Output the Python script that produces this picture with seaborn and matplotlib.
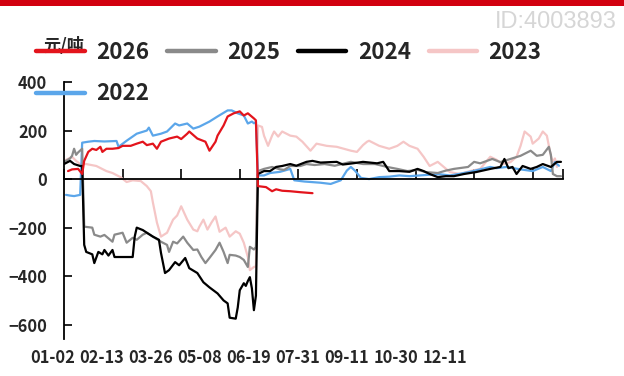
import numpy as np
import pandas as pd
import matplotlib
matplotlib.use("Agg")
import matplotlib.pyplot as plt
from matplotlib.lines import Line2D
from matplotlib.patches import Rectangle
import seaborn as sns

# ---------------- data (trading-day index, 元/吨) ----------------
tick_labels = ["01-02", "02-13", "03-26", "05-08", "06-19", "07-31", "09-11", "10-30", "12-11"]
tick_days = [0, 29, 58, 87, 116, 145, 174, 203, 232]
x_end = 247

days_2026 = [2, 4, 7, 9, 10, 12, 14, 16, 18, 19, 21, 24, 27, 29, 33, 36, 39, 41, 44, 46, 48, 52, 56,
             58, 61, 62, 66, 70, 72, 75, 76, 79, 81, 84, 87, 89, 91, 94, 95, 96, 97, 100, 103, 105,
             108, 112, 117, 123]
vals_2026 = [33, 40, 42, 21, 75, 112, 125, 120, 133, 112, 125, 125, 128, 137, 137, 146, 154, 140, 146,
             125, 154, 167, 175, 165, 187, 196, 167, 154, 117, 154, 179, 221, 258, 271, 279, 262, 271,
             250, 242, -29, -30, -33, -50, -42, -48, -50, -54, -58]

days_2025 = [0, 3, 4, 5, 6, 7, 9, 10, 14, 15, 18, 20, 24, 25, 29, 31, 34, 36, 39, 41, 44, 48, 51, 52,
             54, 56, 59, 61, 64, 66, 68, 70, 72, 75, 77, 79, 81, 82, 85, 87, 89, 91, 92, 94, 95,
             96, 99, 103, 107, 109, 112, 117, 120, 124, 129, 134, 142, 148, 154, 160, 165, 170, 175,
             179, 185, 189, 193, 200, 203, 206, 212, 216, 221, 226, 231, 234, 237, 240, 241, 242, 244, 246]
vals_2025 = [71, 85, 96, 125, 100, 110, 125, -196, -200, -229, -237, -230, -258, -229, -221, -262,
             -242, -250, -229, -221, -237, -258, -271, -300, -258, -265, -237, -262, -292, -290, -321,
             -346, -325, -292, -262, -300, -346, -312, -315, -321, -333, -362, -279, -290, -280,
             33, 42, 50, 40, 38, 54, 54, 62, 58, 62, 55, 71, 62, 62, 50, 42, 33, 38,
             29, 25, 35, 42, 50, 71, 65, 83, 70, 83, 96, 117, 96, 100, 133, 100, 21, 12, 12]

days_2024 = [0, 3, 5, 8, 9, 10, 11, 14, 15, 17, 19, 20, 22, 24, 25, 28, 34, 35, 36, 39, 41, 44, 47,
             48, 50, 52, 55, 57, 60, 62, 66, 69, 72, 76, 79, 81, 82, 85, 86, 87, 89, 90, 91, 92, 93,
             94, 95, 96, 99, 102, 105, 108, 112, 115, 120, 123, 127, 132, 135, 138, 143, 148, 155,
             158, 161, 166, 171, 175, 178, 181, 185, 189, 193, 198, 204, 211, 216, 218, 220, 222,
             224, 227, 231, 234, 237, 241, 244, 246]
vals_2024 = [62, 75, 62, 54, 54, -271, -300, -310, -346, -300, -310, -292, -315, -292, -321, -321,
             -321, -237, -200, -210, -221, -237, -250, -304, -387, -375, -342, -355, -325, -367,
             -387, -425, -446, -471, -500, -512, -571, -575, -529, -458, -429, -440, -420, -404,
             -450, -540, -480, 21, 33, 33, 50, 54, 62, 55, 71, 75, 68, 70, 71, 60, 65, 71, 65,
             71, 33, 33, 30, 42, 33, 21, 8, 12, 12, 21, 29, 42, 50, 83, 45, 50,
             21, 54, 42, 50, 62, 50, 71, 71]

days_2023 = [0, 4, 6, 8, 11, 16, 21, 24, 28, 31, 34, 38, 41, 43, 44, 46, 48, 51, 54, 56, 58, 61, 64,
             66, 67, 69, 71, 73, 75, 77, 80, 82, 85, 87, 89, 91, 92, 94, 95, 96, 98, 99, 101, 103,
             104, 106, 108, 112, 115, 118, 122, 125, 130, 135, 142, 145, 148, 150, 151, 156, 161,
             165, 168, 171, 175, 178, 181, 185, 188, 191, 196, 201, 206, 211, 214, 217, 221, 224,
             226, 228, 231, 232, 235, 237, 239, 241, 242, 243, 244]
vals_2023 = [75, 92, 75, 62, 62, 54, 33, 25, 8, -12, -5, -8, -29, -50, -96, -179, -237, -221, -167,
             -150, -112, -167, -208, -215, -196, -167, -208, -179, -154, -217, -200, -237, -215,
             -225, -262, -321, -375, -362, -360, 221, 215, 179, 137, 179, 196, 175, 196, 179, 175,
             154, 117, 146, 137, 133, 117, 112, 140, 154, 158, 137, 125, 137, 154, 137, 125, 92,
             54, 71, 50, 29, 21, 33, 42, 92, 80, 62, 70, 92, 137, 196, 175, 146, 167, 196, 179,
             96, 71, 85, 50]

days_2022 = [1, 3, 5, 8, 9, 12, 15, 20, 26, 27, 31, 36, 41, 42, 44, 48, 51, 55, 57, 61, 64, 67, 72,
             76, 81, 83, 86, 89, 91, 93, 94, 95, 96, 99, 102, 107, 112, 114, 119, 127, 132, 137,
             140, 142, 144, 147, 151, 156, 161, 166, 171, 176, 181, 186, 191, 196, 201, 207, 211,
             214, 219, 226, 232, 237, 241, 243, 245]
vals_2022 = [-65, -68, -70, -65, 150, 154, 157, 155, 157, 133, 158, 187, 200, 212, 179, 187, 196, 229,
             221, 229, 208, 216, 237, 258, 283, 283, 271, 262, 229, 237, 230, 235, 15, 15, 25, 30,
             42, -5, -10, -15, -20, -5, 35, 50, 35, 5, 0, 8, 10, 15, 12, 15, 18, 20, 15, 22, 30,
             42, 50, 45, 50, 40, 33, 50, 33, 70, 55]

years = ["2026", "2025", "2024", "2023", "2022"]
colors = {"2026": "#e3141c", "2025": "#8a8a8a", "2024": "#000000",
          "2023": "#f5c6c6", "2022": "#5ba6ea"}
series = {"2026": (days_2026, vals_2026), "2025": (days_2025, vals_2025),
          "2024": (days_2024, vals_2024), "2023": (days_2023, vals_2023),
          "2022": (days_2022, vals_2022)}

frames = []
for y in years:
    d, v = series[y]
    frames.append(pd.DataFrame({"day": d, "value": v, "year": y}))
df = pd.concat(frames, ignore_index=True)

# ---------------- figure ----------------
sns.set_style("white")
plt.rcParams["font.family"] = ["Noto Sans CJK SC", "DejaVu Sans"]

W, H = 624, 376
fig = plt.figure(figsize=(W / 100, H / 100), dpi=100)

ax_left, ax_right = 64 / W, 563 / W
ax_top, ax_bot = 1 - 82 / H, 1 - 339.3 / H
ax = fig.add_axes([ax_left, ax_bot, ax_right - ax_left, ax_top - ax_bot])

draw_order = ["2023", "2022", "2025", "2024", "2026"]
sns.lineplot(data=df, x="day", y="value", hue="year", hue_order=draw_order,
             palette=colors, estimator=None, sort=False, legend=False,
             linewidth=1.6, ax=ax)

ax.set_xlim(0, x_end)
ax.set_ylim(-660, 400)
ax.set_xlabel("")
ax.set_ylabel("")

for s in ["top", "right"]:
    ax.spines[s].set_visible(False)
ax.spines["bottom"].set_position(("data", 0))
ax.spines["bottom"].set_linewidth(1.3)
ax.spines["left"].set_linewidth(1.3)
ax.spines["bottom"].set_color("black")
ax.spines["left"].set_color("black")
ax.spines["bottom"].set_zorder(6)

ax.set_xticks(tick_days + [x_end])
ax.set_xticklabels([])
ax.tick_params(axis="x", which="major", bottom=True, top=False, direction="in",
               length=7.5, width=1.2, color="black")
ax.set_yticks([-600, -400, -200, 0, 200, 400])
ax.set_yticklabels(["\u2212600", "\u2212400", "\u2212200", "0", "200", "400"])
ax.tick_params(axis="y", which="major", left=True, right=False, direction="in",
               length=6, width=1.2, color="black", pad=12, labelsize=11.8)
for t in ax.get_yticklabels():
    t.set_fontweight("bold")

# x labels drawn on a separate, compressed label axis (as in reference)
lab = fig.add_axes([53 / W, 1 - 349 / H, (445 - 53) / W, 0.0001])
lab.set_xlim(0, len(tick_labels) - 1)
lab.set_xticks(range(len(tick_labels)))
lab.set_xticklabels(tick_labels, fontsize=11.8, fontweight="bold")
lab.set_yticks([])
lab.tick_params(axis="x", length=0, pad=0)
for s in lab.spines.values():
    s.set_visible(False)
lab.patch.set_alpha(0)

# legend
leg_order = ["2026", "2022", "2025", "2024", "2023"]
handles = [Line2D([], [], color=colors[y], linewidth=3.2) for y in leg_order]
fig.legend(handles, leg_order, ncol=4, loc="upper left",
           bbox_to_anchor=(36 / W, 1 - 41 / H), frameon=False,
           prop={"size": 16.2, "weight": "bold"}, handlelength=2.16, handletextpad=0.5,
           columnspacing=0.8, labelspacing=0.82, borderpad=0, borderaxespad=0)

fig.text(43 / W, 1 - 51 / H, "元/吨", fontsize=12.3, fontweight="bold",
         ha="left", va="baseline")

# header decorations
fig.patches.append(Rectangle((0, 1 - 5.5 / H), 1, 5.5 / H, transform=fig.transFigure,
                             facecolor="#d2000f", edgecolor="none", zorder=5))
fig.text(617 / W, 1 - 28 / H, "ID:4003893", fontsize=17, color="#d6d6d6",
         family=["Liberation Sans", "DejaVu Sans"], ha="right", va="baseline")

fig.savefig("out.png", dpi=100)
